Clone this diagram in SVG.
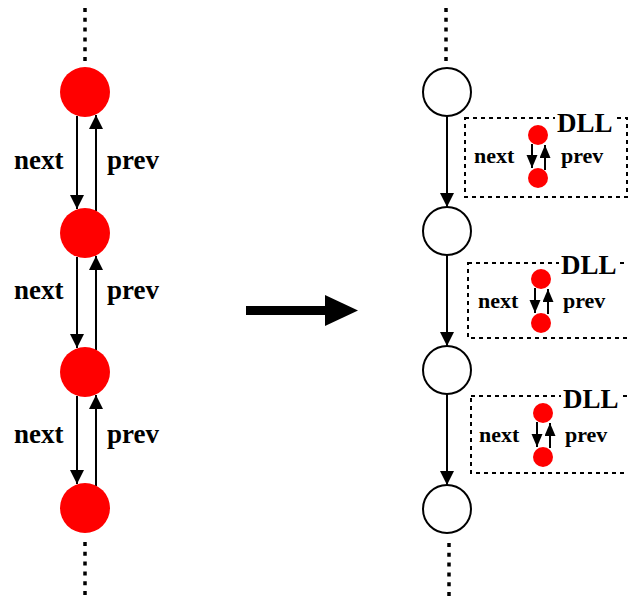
<svg xmlns="http://www.w3.org/2000/svg" width="628" height="596" viewBox="0 0 628 596">
<style>
.lbl{font-family:"Liberation Serif","Times New Roman",serif;font-weight:bold;fill:#000}
.big{font-size:27px}
.sm{font-size:22px}
.dll{font-size:27px}
.red{fill:#ff0000}
.wc{fill:#fff;stroke:#000;stroke-width:2}
.edge{stroke:#000;stroke-width:2;fill:none}
.edge2{stroke:#000;stroke-width:2;fill:none}
.dots{stroke:#000;stroke-width:3.5;stroke-dasharray:4 5.8;fill:none}
.box{fill:none;stroke:#000;stroke-width:2;stroke-dasharray:4 4}
</style>
<defs>
<marker id="ah" markerUnits="userSpaceOnUse" markerWidth="14" markerHeight="15" refX="14" refY="7" orient="auto">
<path d="M0,0 L14,7 L0,14 Z" fill="#000"/>
</marker>
<marker id="ahs" markerUnits="userSpaceOnUse" markerWidth="14" markerHeight="12" refX="13" refY="5.5" orient="auto">
<path d="M0,0 L13,5.5 L0,11 Z" fill="#000"/>
</marker>
</defs>

<g id="connectors">
<line class="dots" x1="85" y1="8" x2="85" y2="62"/>
<line class="dots" x1="85" y1="542" x2="85" y2="596"/>
<line class="dots" x1="446" y1="8" x2="446" y2="62"/>
<line class="dots" x1="449" y1="543" x2="449" y2="596"/>

<line class="edge" x1="77" y1="116" x2="77" y2="209" marker-end="url(#ah)"/>
<line class="edge" x1="96" y1="211" x2="96" y2="115" marker-end="url(#ah)"/>
<line class="edge" x1="77" y1="257" x2="77" y2="348" marker-end="url(#ah)"/>
<line class="edge" x1="96" y1="350" x2="96" y2="256" marker-end="url(#ah)"/>
<line class="edge" x1="77" y1="396" x2="77" y2="484" marker-end="url(#ah)"/>
<line class="edge" x1="96" y1="486" x2="96" y2="395" marker-end="url(#ah)"/>

<line class="edge" x1="447" y1="116" x2="447" y2="207" marker-end="url(#ah)"/>
<line class="edge" x1="447" y1="255" x2="447" y2="346" marker-end="url(#ah)"/>
<line class="edge" x1="447" y1="394" x2="447" y2="485" marker-end="url(#ah)"/>

<line x1="246" y1="310.5" x2="328" y2="310.5" stroke="#000" stroke-width="9"/>
<polygon points="325,295 358,310.5 325,326" fill="#000"/>

<line class="edge2" x1="532" y1="144" x2="532" y2="168" marker-end="url(#ahs)"/>
<line class="edge2" x1="545" y1="170" x2="545" y2="145" marker-end="url(#ahs)"/>
<line class="edge2" x1="535" y1="288" x2="535" y2="313" marker-end="url(#ahs)"/>
<line class="edge2" x1="548" y1="314" x2="548" y2="289" marker-end="url(#ahs)"/>
<line class="edge2" x1="537" y1="422" x2="537" y2="447" marker-end="url(#ahs)"/>
<line class="edge2" x1="550" y1="448" x2="550" y2="423" marker-end="url(#ahs)"/>
</g>

<g id="left-n1"><circle class="red" cx="85" cy="92" r="25"/></g>
<g id="left-n2"><circle class="red" cx="85" cy="233" r="25"/></g>
<g id="left-n3"><circle class="red" cx="85" cy="372" r="25"/></g>
<g id="left-n4"><circle class="red" cx="85" cy="508" r="25"/></g>

<g id="left-labels">
<text class="lbl big" x="14" y="169">next</text>
<text class="lbl big" x="107" y="169">prev</text>
<text class="lbl big" x="14" y="299">next</text>
<text class="lbl big" x="107" y="299">prev</text>
<text class="lbl big" x="14" y="443">next</text>
<text class="lbl big" x="107" y="443">prev</text>
</g>

<g id="right-n1"><circle class="wc" cx="447" cy="92" r="24"/></g>
<g id="right-n2"><circle class="wc" cx="447" cy="231" r="24"/></g>
<g id="right-n3"><circle class="wc" cx="447" cy="370" r="24"/></g>
<g id="right-n4"><circle class="wc" cx="447" cy="509" r="24"/></g>

<g id="dll1">
<rect class="box" x="465" y="118" width="162" height="79"/>
<rect x="555" y="110" width="61" height="20" fill="#fff"/>
<text class="lbl dll" x="557" y="132">DLL</text>
<circle class="red" cx="538" cy="135" r="10"/>
<circle class="red" cx="538" cy="178" r="10"/>
<text class="lbl sm" x="474" y="163">next</text>
<text class="lbl sm" x="561" y="163">prev</text>
</g>

<g id="dll2">
<rect class="box" x="468" y="263" width="170" height="75"/>
<rect x="559" y="255" width="58" height="20" fill="#fff"/>
<text class="lbl dll" x="561" y="274">DLL</text>
<circle class="red" cx="541" cy="279" r="10"/>
<circle class="red" cx="541" cy="323" r="10"/>
<text class="lbl sm" x="478" y="308">next</text>
<text class="lbl sm" x="563" y="308">prev</text>
</g>

<g id="dll3">
<rect class="box" x="471" y="396" width="170" height="77"/>
<rect x="561" y="388" width="60" height="20" fill="#fff"/>
<text class="lbl dll" x="563" y="408">DLL</text>
<circle class="red" cx="543" cy="413" r="10"/>
<circle class="red" cx="543" cy="457" r="10"/>
<text class="lbl sm" x="479" y="442">next</text>
<text class="lbl sm" x="565" y="442">prev</text>
</g>
</svg>
